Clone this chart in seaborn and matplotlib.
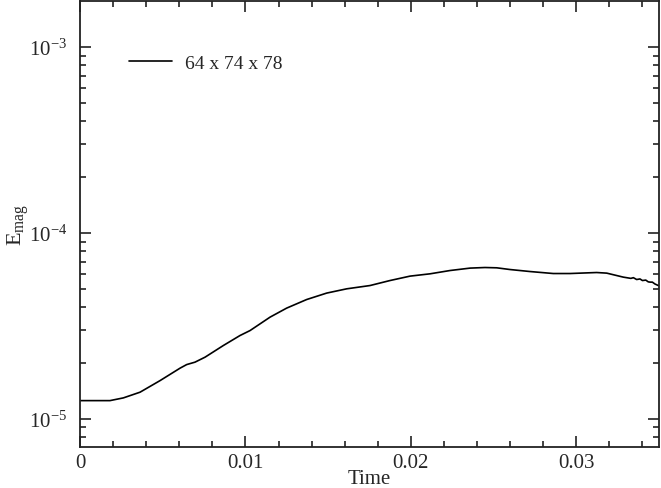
import numpy as np
import pandas as pd
import matplotlib
matplotlib.use("Agg")
import matplotlib.pyplot as plt
import seaborn as sns
from matplotlib.ticker import LogLocator, MultipleLocator, FixedLocator, NullFormatter

# ---- data ----
time = [0.0, 0.00181, 0.00262, 0.00363, 0.00484, 0.00605, 0.00645, 0.00695,
        0.00756, 0.00866, 0.00967, 0.01028, 0.01149, 0.01249, 0.01370, 0.01491,
        0.01612, 0.01753, 0.01874, 0.01995, 0.02116, 0.02237, 0.02358, 0.02448,
        0.02519, 0.02599, 0.02720, 0.02861, 0.02962, 0.03123, 0.03184, 0.03284,
        0.03330, 0.03345, 0.03365, 0.03385, 0.03400, 0.03420, 0.03435, 0.03446,
        0.03460, 0.03475, 0.03496]
emag = [1.254e-5, 1.254e-5, 1.297e-5, 1.392e-5, 1.607e-5, 1.875e-5, 1.960e-5, 2.019e-5,
        2.148e-5, 2.480e-5, 2.808e-5, 2.987e-5, 3.527e-5, 3.943e-5, 4.386e-5, 4.750e-5,
        5.008e-5, 5.216e-5, 5.550e-5, 5.861e-5, 6.031e-5, 6.283e-5, 6.473e-5, 6.521e-5,
        6.497e-5, 6.361e-5, 6.205e-5, 6.053e-5, 6.053e-5, 6.129e-5, 6.083e-5, 5.789e-5,
        5.700e-5, 5.75e-5, 5.620e-5, 5.66e-5, 5.55e-5, 5.58e-5, 5.46e-5, 5.442e-5,
        5.44e-5, 5.32e-5, 5.216e-5]
series_label = "64 x 74 x 78"

x_ticks = [0, 0.01, 0.02, 0.03]
x_ticklabels = ["0", "0.01", "0.02", "0.03"]
y_ticks = [1e-5, 1e-4, 1e-3]
y_ticklabels = [r"$10^{-5}$", r"$10^{-4}$", r"$10^{-3}$"]

df = pd.DataFrame({"Time": time, "Emag": emag, "run": series_label})

sns.set_style("ticks")
plt.rcParams["font.family"] = ["Liberation Serif", "DejaVu Serif"]
plt.rcParams["mathtext.fontset"] = "custom"
plt.rcParams["mathtext.rm"] = "Liberation Serif"
plt.rcParams["mathtext.it"] = "Liberation Serif:italic"
plt.rcParams["mathtext.bf"] = "Liberation Serif:bold"

fig = plt.figure(figsize=(6.61, 4.89), dpi=100)
ax = fig.add_axes([80 / 661, 1 - 448 / 489, 579 / 661, 446 / 489])

sns.lineplot(data=df, x="Time", y="Emag", hue="run", palette=["black"],
             linewidth=1.2, ax=ax, estimator=None, sort=False)

ax.set_yscale("log")
ax.set_xlim(0, 0.035)
ax.set_ylim(7.06e-6, 1.77e-3)

ax.xaxis.set_major_locator(FixedLocator(x_ticks))
ax.set_xticklabels(x_ticklabels)
ax.xaxis.set_minor_locator(MultipleLocator(0.002))
ax.yaxis.set_major_locator(FixedLocator(y_ticks))
ax.set_yticklabels(y_ticklabels)
ax.yaxis.set_minor_locator(LogLocator(base=10, subs=np.arange(2, 10)))
ax.yaxis.set_minor_formatter(NullFormatter())

ax.tick_params(which="both", direction="in", top=True, right=True, width=1.2,
               labelsize=15, color="#222222")
ax.tick_params(which="major", length=8)
ax.tick_params(which="minor", length=4)
ax.tick_params(axis="x", pad=4)
ax.tick_params(axis="y", pad=9)

for s in ax.spines.values():
    s.set_linewidth(1.3)
    s.set_color("#222222")

ax.set_xlabel("Time", fontsize=15)
ax.xaxis.set_label_coords(0.5, -0.05)
ax.set_ylabel(r"$\mathrm{E_{mag}}$", fontsize=16)
ax.yaxis.set_label_coords(-0.085, 0.5)

leg = ax.legend(loc="upper left", bbox_to_anchor=(0.054, 0.92), frameon=False,
                fontsize=14, handlelength=2.2, handletextpad=0.7)

fig.savefig("out.png", dpi=100)
